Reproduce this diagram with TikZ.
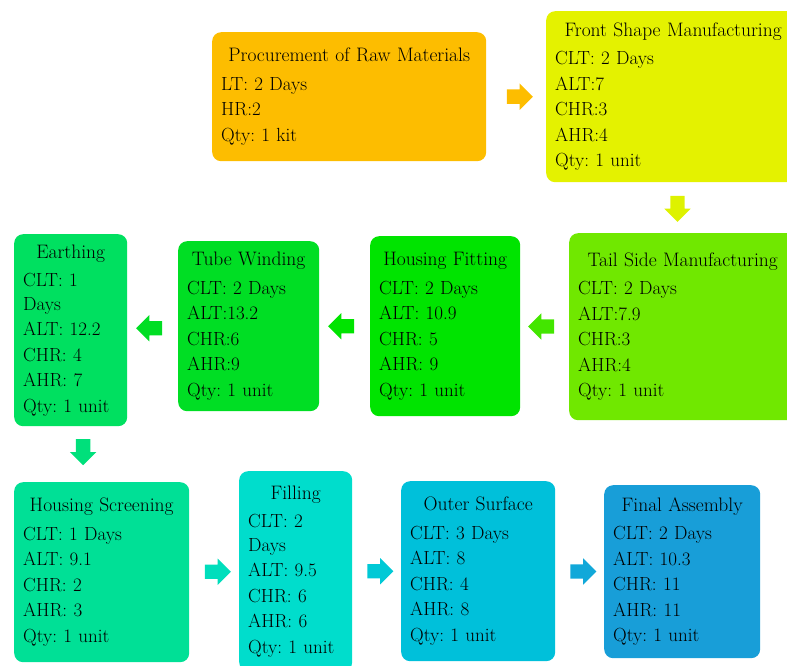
\documentclass[tikz,border=0pt]{standalone}
\usepackage{tikz}
\usetikzlibrary{shapes.arrows,calc}

\definecolor{procColor}{HTML}{FDBD00}
\definecolor{frontColor}{HTML}{E4F200}
\definecolor{tailColor}{HTML}{70E800}
\definecolor{fitColor}{HTML}{00E400}
\definecolor{tubeColor}{HTML}{00DE24}
\definecolor{earthColor}{HTML}{00E060}
\definecolor{screenColor}{HTML}{00E096}
\definecolor{fillColor}{HTML}{00DDCC}
\definecolor{outerColor}{HTML}{00C0DA}
\definecolor{finalColor}{HTML}{189ED8}

\tikzset{
    stage/.style={rounded corners=9pt, align=left, anchor=north west, inner xsep=9pt,
        font=\fontsize{19}{25.5}\selectfont\frenchspacing},
    blockarrow/.style={single arrow, draw=none, minimum width=25pt, minimum height=26pt,
        single arrow head extend=6pt, inner sep=7pt}
}
\newcommand{\ttl}[1]{\makebox[\linewidth][c]{\fontsize{19.5}{25}\selectfont #1}\\[3pt]}

\begin{document}
\begin{tikzpicture}[x=1pt, y=-1pt]
    \clip (0,0) rectangle (787,666);
    % top row
    \node[stage, fill=procColor, minimum width=274, minimum height=129, text width=256] (proc) at (212,32)
        {\ttl{Procurement of Raw Materials}LT: 2 Days\\HR:2\\Qty: 1 kit};
    \node[stage, fill=frontColor, minimum width=254, minimum height=171, text width=236] (front) at (546,11)
        {\ttl{Front Shape Manufacturing}CLT: 2 Days\\ALT:7\\CHR:3\\AHR:4\\Qty: 1 unit};
    % middle row
    \node[stage, fill=tailColor, minimum width=227, minimum height=187, text width=209] (tail) at (569,233)
        {\ttl{Tail Side Manufacturing}CLT: 2 Days\\ALT:7.9\\CHR:3\\AHR:4\\Qty: 1 unit};
    \node[stage, fill=fitColor, minimum width=150, minimum height=180, text width=132] (fit) at (370,236)
        {\ttl{Housing Fitting}CLT: 2 Days\\ALT: 10.9\\CHR: 5\\AHR: 9\\Qty: 1 unit};
    \node[stage, fill=tubeColor, minimum width=141, minimum height=170, text width=123] (tube) at (178,241)
        {\ttl{Tube Winding}CLT: 2 Days\\ALT:13.2\\CHR:6\\AHR:9\\Qty: 1 unit};
    \node[stage, fill=earthColor, minimum width=113, minimum height=192, text width=95] (earth) at (14,234)
        {\ttl{Earthing}CLT: 1\\[-2pt]Days\\ALT: 12.2\\CHR: 4\\AHR: 7\\Qty: 1 unit};
    % bottom row
    \node[stage, fill=screenColor, minimum width=175, minimum height=180, text width=157] (screen) at (14,482)
        {\ttl{Housing Screening}CLT: 1 Days\\ALT: 9.1\\CHR: 2\\AHR: 3\\Qty: 1 unit};
    \node[stage, fill=fillColor, minimum width=113, minimum height=200, text width=95] (filling) at (239,471)
        {\ttl{Filling}CLT: 2\\[-2pt]Days\\ALT: 9.5\\CHR: 6\\AHR: 6\\Qty: 1 unit};
    \node[stage, fill=outerColor, minimum width=154, minimum height=180, text width=136] (outer) at (401,481)
        {\ttl{Outer Surface}CLT: 3 Days\\ALT: 8\\CHR: 4\\AHR: 8\\Qty: 1 unit};
    \node[stage, fill=finalColor, minimum width=156, minimum height=173, text width=138] (final) at (604,485)
        {\ttl{Final Assembly}CLT: 2 Days\\ALT: 10.3\\CHR: 11\\AHR: 11\\Qty: 1 unit};
    % block arrows between the stages
    \node[blockarrow, fill=procColor] (a1) at ($(proc.east)!.5!(front.west)$) {};
    \node[blockarrow, fill=frontColor!95!tailColor, rotate=-90] (a2) at ($(front.south)!.45!(tail.north)$) {};
    \node[blockarrow, fill=tailColor!60!fitColor, rotate=180] (a3) at ($(tail.west)!.5!(fit.east)$) {};
    \node[blockarrow, fill=fitColor, rotate=180] (a4) at ($(fit.west)!.5!(tube.east)$) {};
    \node[blockarrow, fill=tubeColor, rotate=180] (a5) at ($(tube.west)!.5!(earth.east)$) {};
    \node[blockarrow, fill=earthColor!50!screenColor, rotate=-90] (a6) at ($(earth.south)!.4!(screen.north)$) {};
    \node[blockarrow, fill=screenColor!30!fillColor] (a7) at ($(screen.east)!.5!(filling.west)$) {};
    \node[blockarrow, fill=fillColor!30!outerColor] (a8) at ($(filling.east)!.5!(outer.west)$) {};
    \node[blockarrow, fill=outerColor!30!finalColor] (a9) at ($(outer.east)!.5!(final.west)$) {};
\end{tikzpicture}
\end{document}
